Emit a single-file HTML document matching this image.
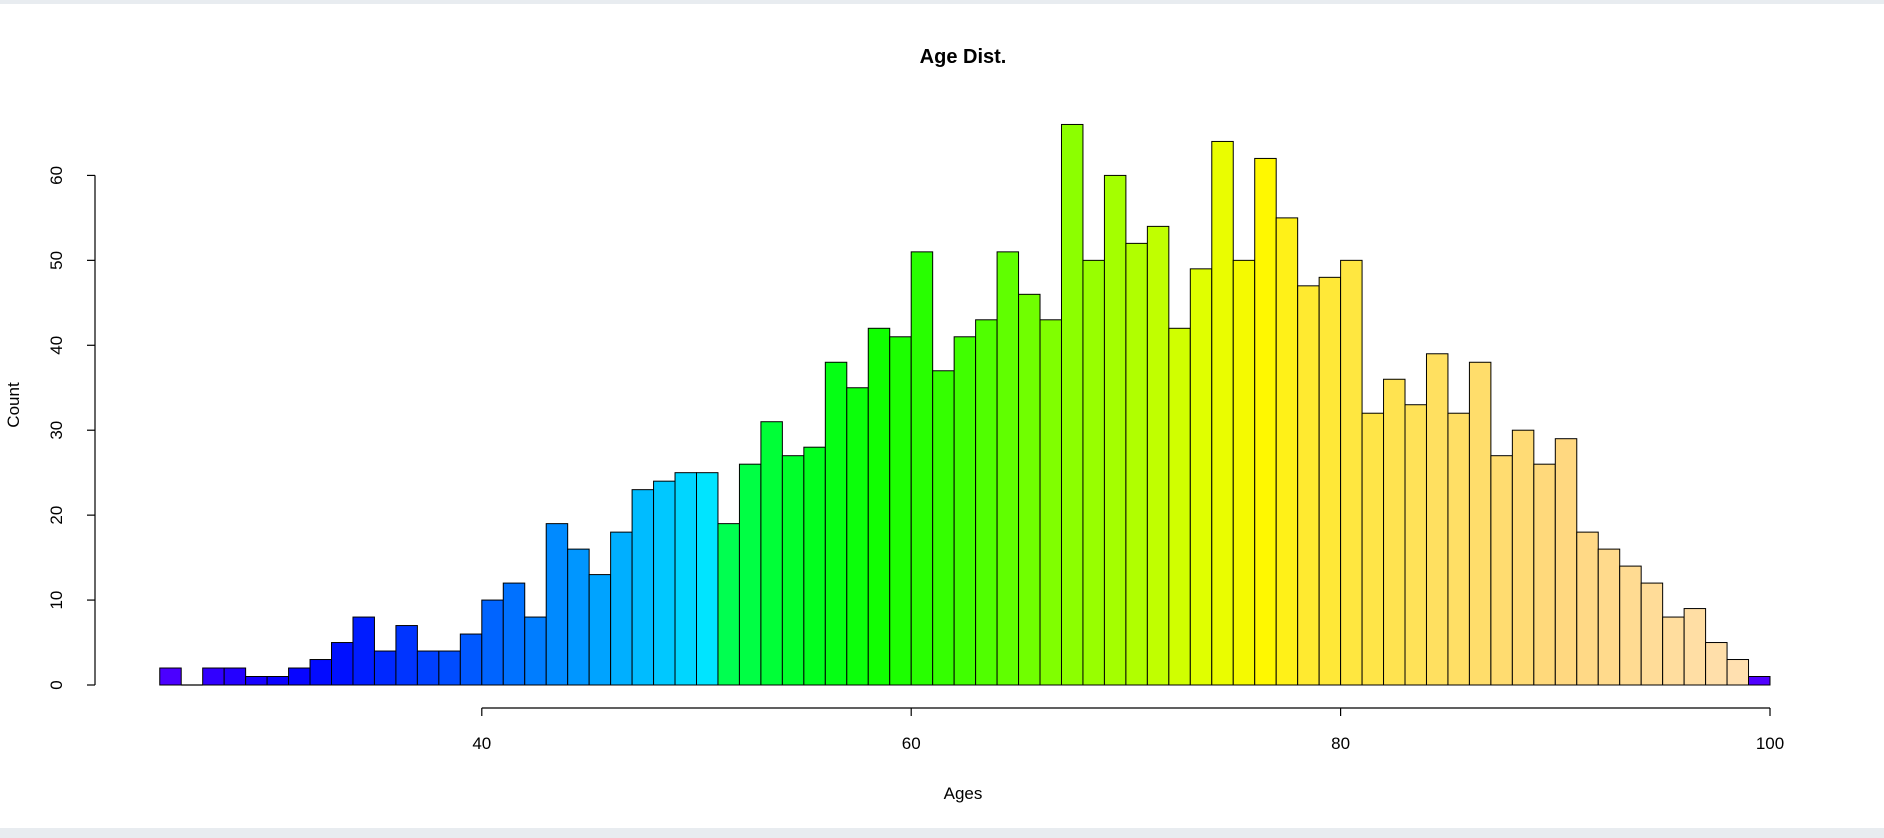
<!DOCTYPE html>
<html><head><meta charset="utf-8"><style>
html,body{margin:0;padding:0;background:#fff;}
svg{display:block;font-family:"Liberation Sans",Arial,sans-serif;}
</style></head><body>
<svg id="chart" width="1884" height="838" viewBox="0 0 1884 838">
<rect x="0" y="0" width="1884" height="4" fill="#e8ecf0"/>
<rect x="0" y="828" width="1884" height="10" fill="#e8ecf0"/>
<text x="963" y="63" text-anchor="middle" font-size="20" font-weight="bold">Age Dist.</text>
<text x="963" y="799" text-anchor="middle" font-size="17">Ages</text>
<text transform="translate(19,405) rotate(-90)" text-anchor="middle" font-size="17">Count</text>
<g id="bars"></g>
<g id="axes"></g>
</svg>
<script>
const binStarts = [25,26,27,28,29,30,31,32,33,34,35,36,37,38,39,40,41,42,43,44,45,46,47,48,49,50,51,52,53,54,55,56,57,58,59,60,61,62,63,64,65,66,67,68,69,70,71,72,73,74,75,76,77,78,79,80,81,82,83,84,85,86,87,88,89,90,91,92,93,94,95,96,97,98,99];
const counts = [2,0,2,2,1,1,2,3,5,8,4,7,4,4,6,10,12,8,19,16,13,18,23,24,25,25,19,26,31,27,28,38,35,42,41,51,37,41,43,51,46,43,66,50,60,52,54,42,49,64,50,62,55,47,48,50,32,36,33,39,32,38,27,30,26,29,18,16,14,12,8,9,5,3,1];
const xTicks = [40,60,80,100];
const yTicks = [0,10,20,30,40,50,60];

const NS = "http://www.w3.org/2000/svg";
function xs(v){ return 481.8 + (v-40)*21.47; }
function ys(v){ return 685 - v*8.493; }
const stops = [[25,[75,0,255]],[30,[10,0,255]],[33,[0,16,255]],[40,[0,100,255]],[44,[0,150,255]],[48,[0,200,255]],[50,[0,228,255]],[51,[0,255,80]],[55,[0,255,30]],[58,[16,255,0]],[62,[64,255,0]],[66,[128,255,0]],[70,[176,255,0]],[73,[224,255,0]],[76,[255,248,0]],[78,[255,234,48]],[84,[255,224,96]],[90,[255,216,128]],[98,[255,224,176]]];
function colorFor(b){
  if(b>=99) return "rgb(80,0,255)";
  for(let i=0;i<stops.length-1;i++){
    const [a,ca]=stops[i],[c,cc]=stops[i+1];
    if(b>=a && b<=c){const t=(b-a)/(c-a);return "rgb("+ca.map((v,k)=>Math.round(v+(cc[k]-v)*t)).join(",")+")";}
  }
  return "rgb(255,224,176)";
}
const bars=document.getElementById('bars');
binStarts.forEach((b,i)=>{
  const x0=xs(b),x1=xs(b+1),y0=ys(counts[i]);
  if(counts[i]===0){
    const l=document.createElementNS(NS,'line');
    l.setAttribute('x1',x0);l.setAttribute('x2',x1);l.setAttribute('y1',ys(0));l.setAttribute('y2',ys(0));
    l.setAttribute('stroke','#000');l.setAttribute('stroke-width','1.2');
    
    
    bars.appendChild(l);
    return;
  }
  const r=document.createElementNS(NS,'rect');
  r.setAttribute('x',x0);r.setAttribute('y',y0);
  r.setAttribute('width',x1-x0);r.setAttribute('height',ys(0)-y0);
  r.setAttribute('fill',colorFor(b));
  r.setAttribute('stroke','#000');r.setAttribute('stroke-width','1');
  
  
  bars.appendChild(r);
});
const axes=document.getElementById('axes');
function line(x1,y1,x2,y2,name){
  const l=document.createElementNS(NS,'line');
  l.setAttribute('x1',x1);l.setAttribute('y1',y1);l.setAttribute('x2',x2);l.setAttribute('y2',y2);
  l.setAttribute('stroke','#000');l.setAttribute('stroke-width','1.2');
  
  
  axes.appendChild(l);
}
function text(x,y,s,name,rot){
  const t=document.createElementNS(NS,'text');
  t.setAttribute('x',x);t.setAttribute('y',y);t.setAttribute('font-size','17');t.setAttribute('text-anchor','middle');
  if(rot) t.setAttribute('transform','rotate(-90 '+x+' '+y+')');
  t.textContent=s;
  
  
  axes.appendChild(t);
}
line(xs(xTicks[0]),708,xs(xTicks[xTicks.length-1]),708,'x-axis-line');
xTicks.forEach(v=>{line(xs(v),708,xs(v),716,'x-tick-'+v);text(xs(v),749,String(v),'x-tick-label-'+v,false);});
line(95,ys(yTicks[0]),95,ys(yTicks[yTicks.length-1]),'y-axis-line');
yTicks.forEach(v=>{line(87,ys(v),95,ys(v),'y-tick-'+v);text(62,ys(v),String(v),'y-tick-label-'+v,true);});
</script>
</body></html>
